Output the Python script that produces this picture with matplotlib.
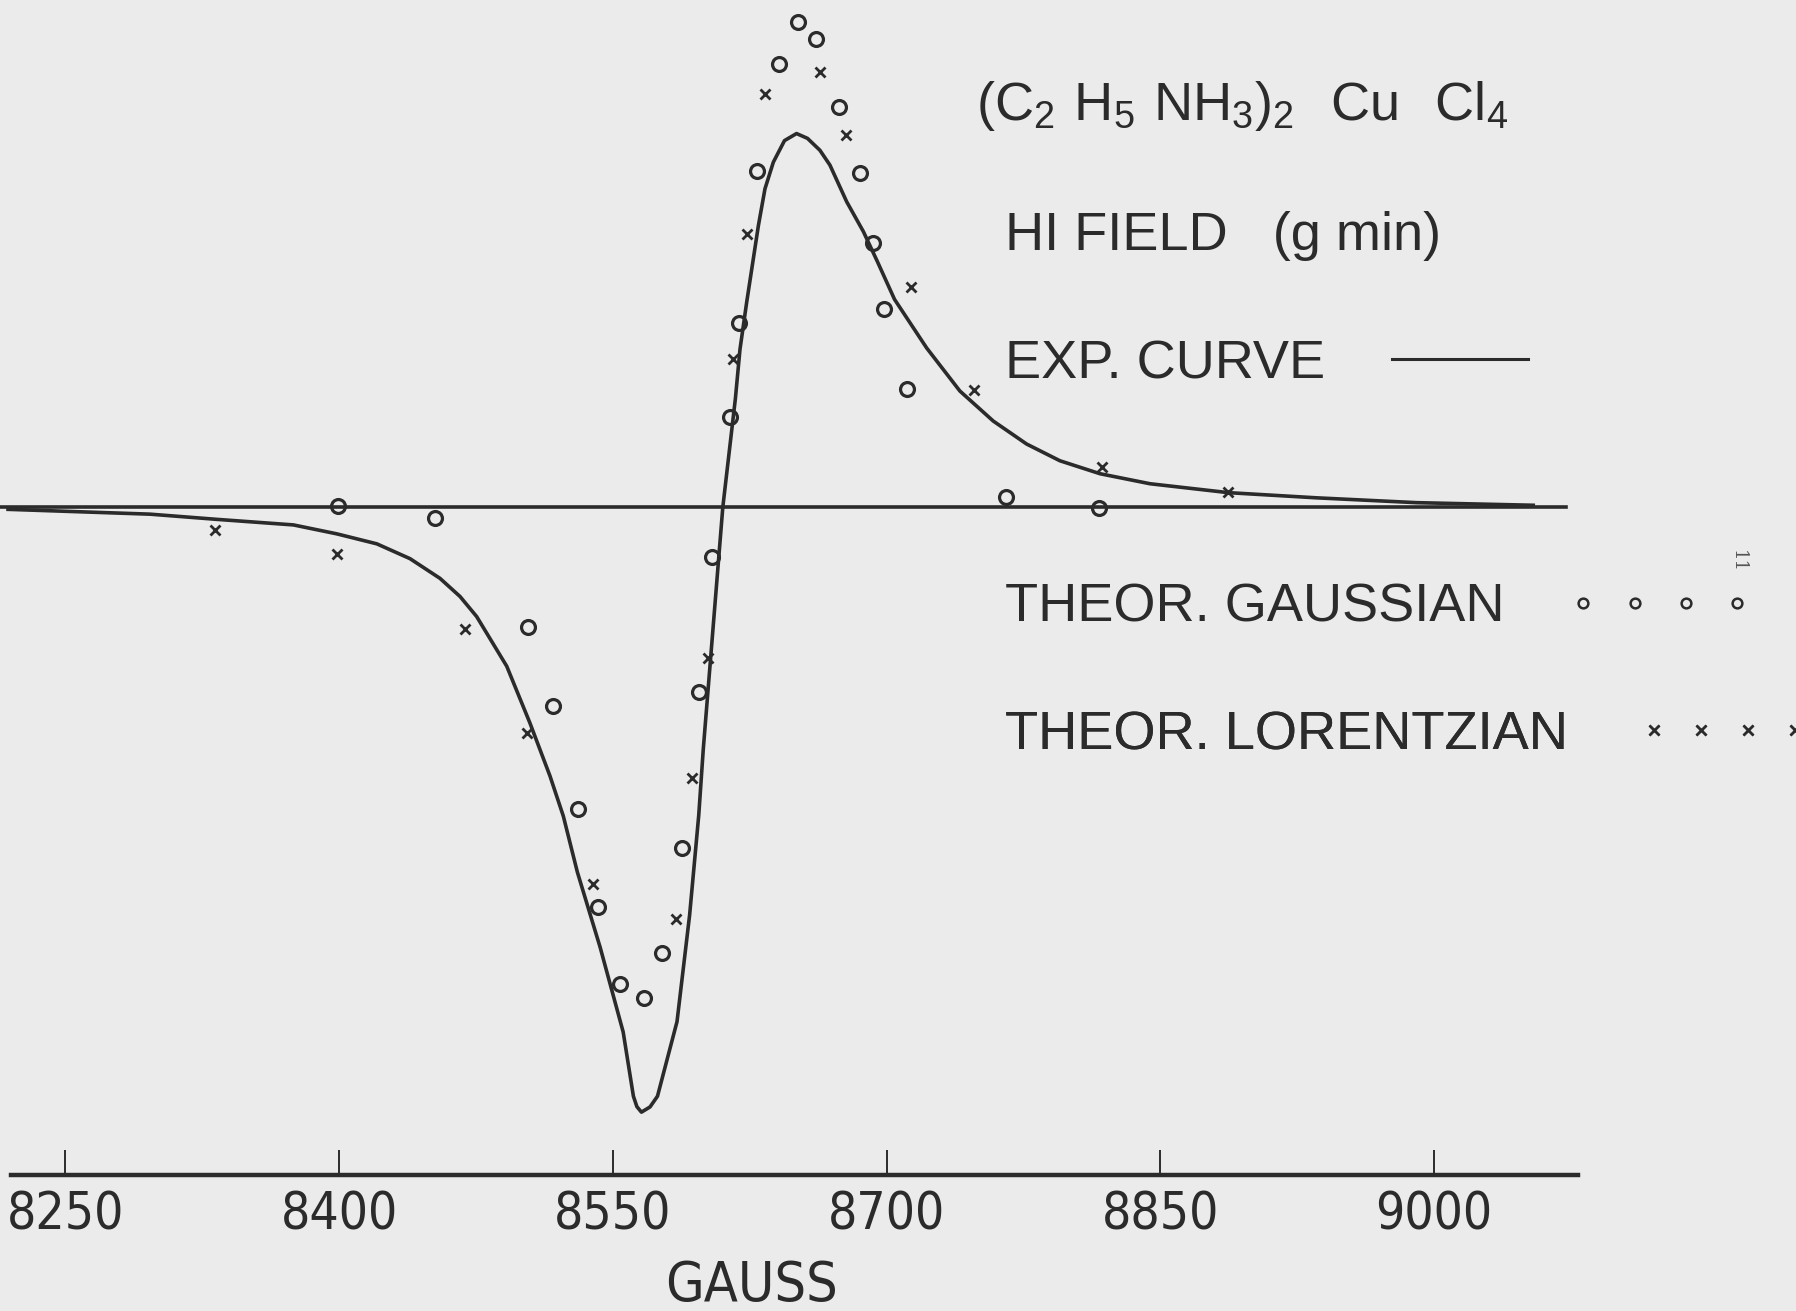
import matplotlib
matplotlib.use("Agg")
import matplotlib.pyplot as plt
from matplotlib.lines import Line2D
from matplotlib.font_manager import FontProperties

# experimental derivative curve (field in gauss, amplitude normalised to peak)
exp_gauss = [8218.6, 8296.4, 8333.0, 8375.0, 8398.7, 8420.7, 8438.9, 8455.3, 8466.3,
             8475.4, 8491.9, 8504.6, 8515.6, 8522.9, 8530.6, 8543.1, 8555.7, 8561.3,
             8563.2, 8565.7, 8570.4, 8574.5, 8585.2, 8592.1, 8597.1, 8599.6, 8610.3,
             8617.2, 8619.7, 8623.4, 8629.8, 8633.4, 8638.0, 8644.1, 8650.7, 8656.7,
             8663.5, 8669.0, 8678.2, 8687.3, 8695.0, 8704.4, 8722.0, 8740.2, 8758.5,
             8776.8, 8795.0, 8817.0, 8844.4, 8887.3, 8935.8, 8990.5, 9054.4]
exp_amp = [-0.006, -0.019, -0.033, -0.048, -0.072, -0.099, -0.139, -0.192, -0.241,
           -0.295, -0.429, -0.582, -0.725, -0.833, -0.984, -1.187, -1.415, -1.588,
           -1.616, -1.631, -1.617, -1.588, -1.387, -1.100, -0.831, -0.652, 0.000,
           0.293, 0.425, 0.553, 0.759, 0.858, 0.930, 0.988, 1.007, 0.994,
           0.962, 0.922, 0.823, 0.743, 0.662, 0.560, 0.429, 0.313, 0.232,
           0.170, 0.125, 0.090, 0.063, 0.039, 0.025, 0.012, 0.005]

# theoretical gaussian points
gau_gauss = [8399.4, 8452.7, 8503.6, 8517.4, 8531.2, 8541.8, 8553.8, 8567.0, 8577.0,
             8587.7, 8597.1, 8604.6, 8614.0, 8619.0, 8629.1, 8641.0, 8651.7, 8661.1,
             8673.7, 8685.6, 8692.5, 8698.8, 8711.3, 8765.3, 8816.7]
gau_amp = [0.004, -0.029, -0.324, -0.537, -0.814, -1.079, -1.286, -1.323, -1.202,
           -0.918, -0.498, -0.134, 0.243, 0.496, 0.907, 1.194, 1.309, 1.263,
           1.078, 0.902, 0.711, 0.535, 0.319, 0.027, -0.002]

# theoretical lorentzian points
lor_gauss = [8332.2, 8398.7, 8469.0, 8502.9, 8539.3, 8584.5, 8593.3, 8602.1, 8615.9,
             8623.4, 8633.5, 8663.6, 8678.0, 8713.2, 8747.7, 8818.0, 8887.0]
lor_amp = [-0.062, -0.126, -0.328, -0.608, -1.015, -1.109, -0.729, -0.408, 0.398,
           0.737, 1.114, 1.173, 1.004, 0.594, 0.317, 0.109, 0.042]

tick_gauss = [8250, 8400, 8550, 8700, 8850, 9000]

ink = "#2b2b2b"
paper = "#ebebeb"
plain = ["Liberation Sans", "DejaVu Sans"]
cond = FontProperties(family="DejaVu Sans", stretch="condensed", size=37)
cond_label = FontProperties(family="DejaVu Sans", stretch="condensed", size=40)

fig = plt.figure(figsize=(17.96, 13.11), dpi=100, facecolor=paper)
ax = fig.add_axes([0, 0, 1, 1], facecolor=paper)

ax.axhline(0, xmin=0, xmax=0.872, color=ink, lw=2.6)
ax.plot(exp_gauss, exp_amp, color=ink, lw=2.6, solid_joinstyle="round")
ax.plot(gau_gauss, gau_amp, ls="none", marker="o", ms=10, mfc="none", mec=ink, mew=2.3)
ax.plot(lor_gauss, lor_amp, ls="none", marker="x", ms=7, mec=ink, mew=2.0)

ax.set_xlim(8214.2, 9198.4)
ax.set_ylim(-2.167, 1.367)

for s in ["top", "right", "left"]:
    ax.spines[s].set_visible(False)
ax.spines["bottom"].set_position(("data", -1.80))
ax.spines["bottom"].set_bounds(8220, 9079)
ax.spines["bottom"].set_linewidth(3.2)
ax.spines["bottom"].set_color(ink)
ax.set_yticks([])
ax.set_xticks(tick_gauss)
ax.set_xticklabels([str(t) for t in tick_gauss])
ax.tick_params(axis="x", direction="in", length=18, width=1.4, pad=11,
               color=ink, labelcolor=ink)
for lab in ax.get_xticklabels():
    lab.set_fontproperties(cond)

ax.set_xlabel("GAUSS", fontproperties=cond_label, color=ink)
ax.xaxis.set_label_coords(656 / 1568, 1 - 1100 / 1145)

# title block
ax.text(852 / 1568, 1 - 105 / 1145,
        r"$\mathregular{(C_2\ H_5\ NH_3)_2\ \ Cu\ \ Cl_4}$",
        transform=ax.transAxes, fontsize=39, color=ink, va="baseline", family=plain)
ax.text(877 / 1568, 1 - 218 / 1145, "HI FIELD   (g min)", transform=ax.transAxes,
        fontsize=39, color=ink, va="baseline", family=plain)

# legend rows
prop = FontProperties(family=plain, size=39)
rows = [
    (Line2D([], [], color=ink, lw=2.2), "EXP. CURVE", 318, 3.1, 0.95),
    (Line2D([], [], ls="none", marker="o", ms=7, mfc="none", mec=ink, mew=1.8),
     "THEOR. GAUSSIAN", 531, 3.45, 1.16),
    (Line2D([], [], ls="none", marker="x", ms=7, mec=ink, mew=1.8),
     "THEOR. LORENTZIAN", 642, 3.2, 1.3),
]
for handle, label, ypix, hlen, hpad in rows:
    leg = ax.legend([handle], [label], loc="center left",
                    bbox_to_anchor=(877 / 1568, 1 - ypix / 1145), frameon=False,
                    borderpad=0, borderaxespad=0, markerfirst=False, numpoints=4,
                    handlelength=hlen, handletextpad=hpad, prop=prop, labelcolor=ink)
    ax.add_artist(leg)

ax.text(1517 / 1568, 1 - 490 / 1145, "11", transform=ax.transAxes, rotation=-90,
        fontsize=13, color="#555555", family="DejaVu Serif", ha="center", va="center")

fig.savefig("out.png", dpi=100, facecolor=paper)
